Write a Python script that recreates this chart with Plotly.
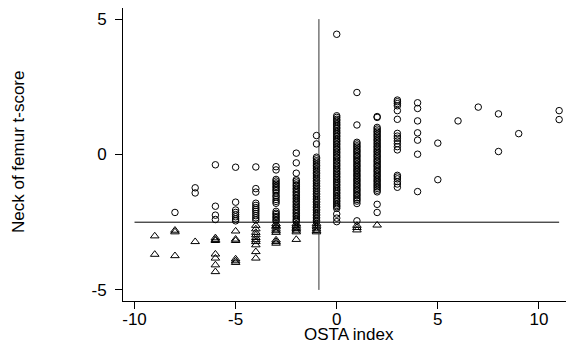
import plotly.graph_objects as go

# ---- data: neck of femur t-score by OSTA index ----
osta_index = [-9, -8, -7, -6, -5, -4, -3, -2, -1, 0, 1, 2, 3, 4, 5, 6, 7, 8, 9, 11]

t_m9 = [-3.01, -3.69]
t_m8 = [-2.14, -2.80, -2.86, -3.74]
t_m7 = [-1.23, -1.42, -3.22]
t_m6 = [-0.38, -1.91, -2.24, -2.40, -3.08, -3.14, -3.18, -3.68, -3.83, -4.08, -4.33]
t_m5 = [-0.47, -1.76, -2.05, -2.14, -2.22, -2.30, -2.38, -2.45,
        -2.83, -3.13, -3.18, -3.86, -3.93, -3.99]
t_m4 = [-0.46, -1.26, -1.39, -1.80, -1.88, -1.96, -2.03, -2.10, -2.18, -2.26, -2.34, -2.42,
        -2.62, -2.75, -2.88, -2.97, -3.07, -3.15, -3.22, -3.34, -3.59, -3.83]
t_m3 = [-0.45, -0.57, -0.92, -0.98, -1.05, -1.10, -1.17, -1.22, -1.29, -1.34, -1.42, -1.51,
        -1.57, -1.66, -1.73, -1.80, -2.10, -2.17, -2.22, -2.29, -2.34, -2.41, -2.46,
        -2.56, -2.63, -2.68, -2.76, -2.82, -2.88, -3.16, -3.22, -3.28]
t_m2 = [0.05, -0.31, -0.69, -0.93, -0.98, -1.05, -1.12, -1.17, -1.24, -1.29, -1.36, -1.41,
        -1.48, -1.53, -1.60, -1.65, -1.72, -1.77, -1.84, -1.90, -1.95, -2.02, -2.07, -2.14,
        -2.19, -2.26, -2.31, -2.38, -2.43, -2.48, -2.56, -2.62, -2.69, -2.74, -2.80, -2.86,
        -3.14]
t_m1 = [0.70, 0.39, -0.10, -0.16, -0.23, -0.28, -0.35, -0.41, -0.46, -0.53, -0.58, -0.65,
        -0.71, -0.76, -0.83, -0.88, -0.95, -1.01, -1.06, -1.13, -1.18, -1.25, -1.31, -1.36,
        -1.43, -1.48, -1.55, -1.61, -1.66, -1.73, -1.78, -1.85, -1.91, -1.96, -2.03, -2.08,
        -2.15, -2.21, -2.26, -2.33, -2.38, -2.44, -2.49, -2.55, -2.62, -2.68, -2.75, -2.81,
        -2.86]
t_0 = [4.44, 1.43, 1.37, 1.30, 1.25, 1.18, 1.12, 1.07, 1.00, 0.95, 0.88, 0.82, 0.77, 0.70,
       0.65, 0.58, 0.52, 0.47, 0.40, 0.35, 0.28, 0.22, 0.17, 0.10, 0.05, -0.02, -0.08,
       -0.13, -0.20, -0.25, -0.32, -0.38, -0.43, -0.50, -0.55, -0.62, -0.68, -0.73, -0.80,
       -0.85, -0.92, -0.98, -1.03, -1.10, -1.15, -1.22, -1.28, -1.33, -1.40, -1.45, -1.52,
       -1.58, -1.63, -1.70, -1.75, -1.82, -1.88, -1.93, -1.99, -2.20, -2.35, -2.48]
t_1 = [2.29, 1.09, 0.45, 0.39, 0.32, 0.27, 0.20, 0.14, 0.09, 0.02, -0.04, -0.09, -0.16,
       -0.22, -0.27, -0.34, -0.40, -0.45, -0.52, -0.58, -0.63, -0.70, -0.76, -0.81, -0.88,
       -0.94, -0.99, -1.06, -1.12, -1.17, -1.24, -1.30, -1.35, -1.42, -1.48, -1.53, -1.60,
       -1.66, -1.72, -1.81, -2.45, -2.62, -2.70, -2.79]
t_2 = [1.40, 1.37, 1.00, 0.94, 0.87, 0.82, 0.75, 0.69, 0.63, 0.56, 0.51, 0.44, 0.38, 0.31,
       0.26, 0.19, 0.13, 0.08, 0.01, -0.05, -0.10, -0.17, -0.23, -0.28, -0.35, -0.41, -0.46,
       -0.53, -0.59, -0.64, -0.71, -0.77, -0.82, -0.89, -0.95, -1.00, -1.07, -1.13, -1.19,
       -1.25, -1.32, -1.38, -1.84, -2.14, -2.61]
t_3 = [2.01, 1.95, 1.88, 1.80, 1.62, 1.30, 0.78, 0.68, 0.60, 0.50, 0.40, 0.29, 0.17,
       -0.77, -0.83, -0.90, -1.00, -1.09, -1.21]
t_4 = [1.91, 1.70, 1.24, 0.80, 0.53, 0.01, -1.37]
t_5 = [0.42, -0.93]
t_6 = [1.24]
t_7 = [1.75]
t_8 = [1.50, 0.11]
t_9 = [0.77]
t_11 = [1.62, 1.29]

t_scores = [t_m9, t_m8, t_m7, t_m6, t_m5, t_m4, t_m3, t_m2, t_m1, t_0,
            t_1, t_2, t_3, t_4, t_5, t_6, t_7, t_8, t_9, t_11]

osteoporosis_cutoff = -2.5   # t-score threshold (horizontal line)
osta_cutoff = -0.88          # OSTA threshold (vertical line)

x_ticks = [-10, -5, 0, 5, 10]
x_tick_text = ["-10", "-5", "0", "5", "10"]
y_ticks = [-5, 0, 5]
y_tick_text = ["-5", "0", "5"]

x_title = "OSTA index"
y_title = "Neck of femur t-score"

# ---- build point lists ----
cx, cy, tx, ty = [], [], [], []
for xi, ys in zip(osta_index, t_scores):
    for yv in ys:
        if yv < osteoporosis_cutoff:
            tx.append(xi); ty.append(yv)
        else:
            cx.append(xi); cy.append(yv)

FONT = "Liberation Sans, Arial, sans-serif"

fig = go.Figure()
fig.add_trace(go.Scatter(
    x=cx, y=cy, mode="markers", cliponaxis=False,
    marker=dict(symbol="circle-open", size=6.5, color="black", line=dict(width=1, color="black")),
    showlegend=False, hoverinfo="skip"))
fig.add_trace(go.Scatter(
    x=tx, y=ty, mode="markers", cliponaxis=False,
    marker=dict(symbol="triangle-up-open", size=7.5, color="black", line=dict(width=1, color="black")),
    showlegend=False, hoverinfo="skip"))

fig.add_shape(type="line", x0=-10, x1=11, y0=osteoporosis_cutoff, y1=osteoporosis_cutoff,
              line=dict(color="black", width=1))
fig.add_shape(type="line", x0=osta_cutoff, x1=osta_cutoff, y0=-5, y1=5,
              line=dict(color="#333333", width=1))

fig.add_annotation(text=x_title, xref="paper", yref="paper", x=0.51, y=-0.113,
                   xanchor="center", yanchor="middle", showarrow=False,
                   font=dict(family=FONT, size=17, color="black"))
fig.add_annotation(text=y_title, xref="paper", yref="paper", x=-0.236, y=0.51,
                   xanchor="center", yanchor="middle", showarrow=False, textangle=-90,
                   font=dict(family=FONT, size=17, color="black"))

fig.update_layout(
    width=566, height=345,
    margin=dict(l=123, r=0, t=8, b=44),
    paper_bgcolor="white", plot_bgcolor="white",
    font=dict(family=FONT, size=17, color="black"),
    xaxis=dict(range=[-10.57, 11.34], tickvals=x_ticks, ticktext=x_tick_text,
               ticks="outside", ticklen=7, tickwidth=1, tickcolor="black",
               showline=True, linecolor="black", linewidth=1, automargin=False,
               showgrid=False, zeroline=False, tickfont=dict(size=17), ticklabelstandoff=-4),
    yaxis=dict(range=[-5.41, 5.41], tickvals=y_ticks, ticktext=y_tick_text,
               ticks="outside", ticklen=7, tickwidth=1, tickcolor="black",
               showline=True, linecolor="black", linewidth=1, automargin=False,
               showgrid=False, zeroline=False, tickfont=dict(size=17), ticklabelstandoff=5),
)

fig.write_html("out.html", config={"displayModeBar": False},
               post_script="document.body.style.margin='0';document.body.style.overflow='hidden';")
